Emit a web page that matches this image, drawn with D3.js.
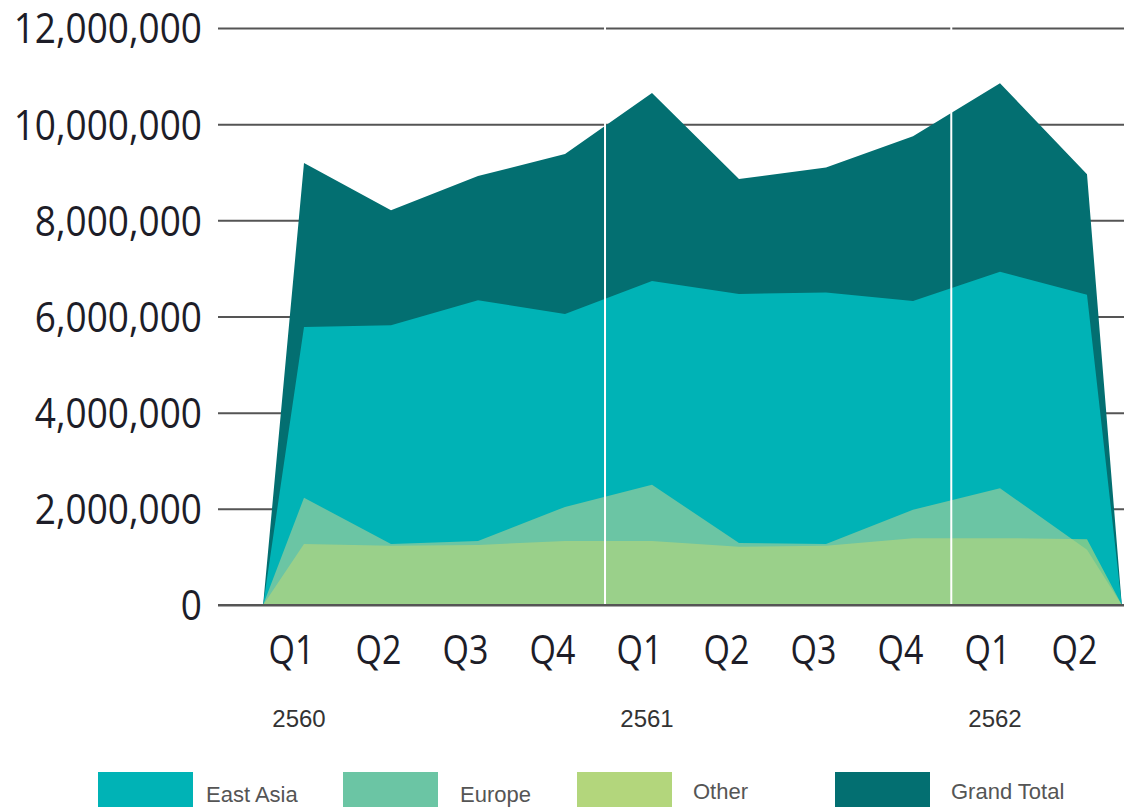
<!DOCTYPE html>
<html>
<head>
<meta charset="utf-8">
<script src="https://cdn.jsdelivr.net/npm/d3@7"></script>
<style>
  body { margin: 0; background: #fff; }
  svg { display: block; }
</style>
</head>
<body>
<svg id="chart" width="1124" height="807"></svg>
<script>
const quarters = ['Q1', 'Q2', 'Q3', 'Q4', 'Q1', 'Q2', 'Q3', 'Q4', 'Q1', 'Q2'];
const years = ['2560', '2561', '2562'];
const yearStart = [0, 4, 8];
const yTicks = [0, 2000000, 4000000, 6000000, 8000000, 10000000, 12000000];

const grandTotal = [9190000, 8210000, 8920000, 9380000, 10650000, 8860000, 9100000, 9750000, 10850000, 8960000];
const eastAsia = [5780000, 5820000, 6340000, 6050000, 6740000, 6470000, 6500000, 6320000, 6930000, 6450000];
const europe = [2230000, 1270000, 1330000, 2040000, 2500000, 1290000, 1270000, 1980000, 2430000, 1150000];
const other = [1270000, 1230000, 1250000, 1330000, 1330000, 1210000, 1230000, 1390000, 1390000, 1370000];

const series = [
  { name: 'Grand Total', values: grandTotal, color: '#036f71', opacity: 1 },
  { name: 'East Asia', values: eastAsia, color: '#00b3b6', opacity: 1 },
  { name: 'Europe', values: europe, color: '#6bc5a4', opacity: 1 },
  { name: 'Other', values: other, color: '#b3d67c', opacity: 0.65 }
];
const legendOrder = ['East Asia', 'Europe', 'Other', 'Grand Total'];

const svg = d3.select('#chart');

const x = d3.scaleLinear().domain([0, quarters.length - 1]).range([304, 1087]);
const y = d3.scaleLinear().domain([0, 12000000]).range([605, 28]);

// gridlines + y labels
const yAxis = svg.append('g')
  .attr('transform', 'translate(218,0)')
  .call(d3.axisLeft(y).tickValues(yTicks).tickFormat(d3.format(',')).tickSize(-906).tickPadding(16));
yAxis.select('.domain').remove();
yAxis.selectAll('.tick line').attr('stroke', '#555').attr('stroke-width', 2);
yAxis.selectAll('.tick text')
  .attr('font-family', 'Open Sans')
  .attr('font-size', 37)
  .attr('fill', '#1d1d28')
  .attr('dy', '0.36em')
  .attr('transform', 'scale(1,1.12)');

// areas, each drawn from zero (overlapping, not stacked)
const area = d3.area()
  .x(d => x(d.i))
  .y0(y(0))
  .y1(d => y(d.v));

series.forEach(s => {
  const pts = [{ i: -0.47, v: 0 }]
    .concat(s.values.map((v, i) => ({ i, v })))
    .concat([{ i: 9.4, v: 0 }]);
  svg.append('path')
    .datum(pts)
    .attr('d', area)
    .attr('fill', s.color)
    .attr('fill-opacity', s.opacity);
});

// year dividers
[3.46, 7.44].forEach(i => {
  svg.append('line')
    .attr('x1', x(i)).attr('x2', x(i))
    .attr('y1', y(12000000) - 2).attr('y2', y(0))
    .attr('stroke', '#fff').attr('stroke-width', 2);
});

// baseline
svg.append('line')
  .attr('x1', 218).attr('x2', 1124)
  .attr('y1', y(0)).attr('y2', y(0))
  .attr('stroke', '#555').attr('stroke-width', 2);

// quarter labels
const xAxis = svg.append('g')
  .attr('transform', `translate(-13,${y(0)})`)
  .call(d3.axisBottom(x).tickValues(d3.range(quarters.length)).tickFormat(i => quarters[i]).tickSize(0).tickPadding(0));
xAxis.select('.domain').remove();
xAxis.selectAll('.tick text')
  .attr('font-family', 'Open Sans')
  .attr('font-size', 34)
  .attr('fill', '#1d1d28')
  .attr('y', 0)
  .attr('dy', 0)
  .attr('transform', 'translate(0,59) scale(1,1.18)');

// year labels
svg.selectAll('text.year')
  .data(years)
  .join('text')
  .attr('class', 'year')
  .attr('x', (d, k) => x(yearStart[k]) - 5)
  .attr('y', 727)
  .attr('text-anchor', 'middle')
  .attr('font-family', 'Liberation Sans, Arial, sans-serif')
  .attr('font-size', 24)
  .attr('fill', '#333')
  .text(d => d);

// legend
const legendX = [98, 343, 577, 835];
const legendTextX = [206, 460, 693, 951];
const legend = svg.selectAll('g.legend')
  .data(legendOrder)
  .join('g')
  .attr('class', 'legend');
legend.append('rect')
  .attr('x', (d, k) => legendX[k])
  .attr('y', 772)
  .attr('width', 95)
  .attr('height', 45)
  .attr('fill', d => d === 'Other' ? '#b3d67c' : series.find(s => s.name === d).color);
legend.append('text')
  .attr('x', (d, k) => legendTextX[k])
  .attr('y', (d, k) => k >= 2 ? 799 : 802)
  .attr('font-family', 'Liberation Sans, Arial, sans-serif')
  .attr('font-size', 22)
  .attr('fill', '#555')
  .text(d => d);
</script>
</body>
</html>
